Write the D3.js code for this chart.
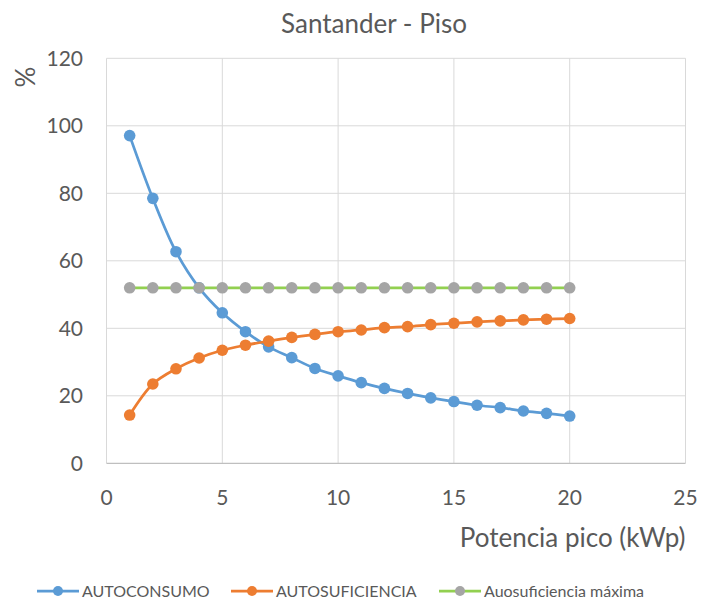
<!DOCTYPE html>
<html>
<head>
<meta charset="utf-8">
<script src="https://cdn.jsdelivr.net/npm/d3@7"></script>
<style>
  body { margin: 0; background: #fff; }
  text { font-family: Lato, "Open Sans", sans-serif; fill: #595959; }
</style>
</head>
<body>
<script>
var potencia = [1, 2, 3, 4, 5, 6, 7, 8, 9, 10, 11, 12, 13, 14, 15, 16, 17, 18, 19, 20];
var autoconsumo = [97.1, 78.5, 62.7, 52.0, 44.6, 39.0, 34.5, 31.3, 28.1, 25.9, 23.9, 22.2, 20.7, 19.4, 18.3, 17.2, 16.5, 15.5, 14.8, 14.0];
var autosuficiencia = [14.3, 23.5, 28.0, 31.2, 33.5, 35.0, 36.2, 37.3, 38.2, 39.0, 39.5, 40.2, 40.5, 41.1, 41.5, 41.9, 42.2, 42.5, 42.7, 42.9];
var maxima = [52, 52, 52, 52, 52, 52, 52, 52, 52, 52, 52, 52, 52, 52, 52, 52, 52, 52, 52, 52];
var xTicks = [0, 5, 10, 15, 20, 25];
var yTicks = [0, 20, 40, 60, 80, 100, 120];
var seriesNames = ["AUTOCONSUMO", "AUTOSUFICIENCIA", "Auosuficiencia máxima"];

var width = 702, height = 600;
var margin = {left: 106.5, right: 16.5, top: 58.3, bottom: 136.7};

var svg = d3.select("body").append("svg")
    .attr("width", width)
    .attr("height", height);

var x = d3.scaleLinear().domain([0, 25]).range([margin.left, width - margin.right]);
var y = d3.scaleLinear().domain([0, 120]).range([height - margin.bottom, margin.top]);

// gridlines
svg.append("g").selectAll("line.h")
    .data(yTicks.filter(function(d) { return d > 0; }))
    .enter().append("line")
    .attr("x1", x(0)).attr("x2", x(25))
    .attr("y1", function(d) { return y(d); })
    .attr("y2", function(d) { return y(d); })
    .style("stroke", "#d9d9d9").style("stroke-width", 1);

svg.append("g").selectAll("line.v")
    .data(xTicks)
    .enter().append("line")
    .attr("y1", y(0)).attr("y2", y(120))
    .attr("x1", function(d) { return x(d); })
    .attr("x2", function(d) { return x(d); })
    .style("stroke", "#d9d9d9").style("stroke-width", 1);

// bottom axis line
svg.append("line")
    .attr("x1", x(0)).attr("x2", x(25))
    .attr("y1", y(0)).attr("y2", y(0))
    .style("stroke", "#bfbfbf").style("stroke-width", 1.2);

// tick labels
svg.append("g").selectAll("text")
    .data(yTicks).enter().append("text")
    .attr("x", 83)
    .attr("y", function(d) { return y(d); })
    .attr("dy", "0.35em")
    .attr("text-anchor", "end")
    .style("font-size", "21px")
    .text(function(d) { return d; });

svg.append("g").selectAll("text")
    .data(xTicks).enter().append("text")
    .attr("x", function(d) { return x(d); })
    .attr("y", y(0) + 34)
    .attr("dy", "0.35em")
    .attr("text-anchor", "middle")
    .style("font-size", "21px")
    .text(function(d) { return d; });

// titles
svg.append("text")
    .attr("x", 374).attr("y", 33)
    .attr("text-anchor", "middle")
    .style("font-size", "26px")
    .text("Santander - Piso");

svg.append("text")
    .attr("x", x(25)).attr("y", 547)
    .attr("text-anchor", "end")
    .style("font-size", "26px")
    .text("Potencia pico (kWp)");

svg.append("text")
    .attr("transform", "translate(35,77) rotate(-90)")
    .attr("text-anchor", "middle")
    .style("font-size", "26px")
    .text("%");

// series
var series = [
    {name: seriesNames[0], values: autoconsumo, line: "#5b9bd5", marker: "#5b9bd5"},
    {name: seriesNames[1], values: autosuficiencia, line: "#ed7d31", marker: "#ed7d31"},
    {name: seriesNames[2], values: maxima, line: "#92d050", marker: "#a5a5a5"}
];

var line = d3.line()
    .x(function(d) { return x(d[0]); })
    .y(function(d) { return y(d[1]); })
    .curve(d3.curveCatmullRom.alpha(0.5));

series.forEach(function(s) {
    var pts = potencia.map(function(p, i) { return [p, s.values[i]]; });
    svg.append("path")
        .datum(pts)
        .attr("d", line)
        .style("fill", "none")
        .style("stroke", s.line)
        .style("stroke-width", 2.75);
    svg.append("g").selectAll("circle")
        .data(pts).enter().append("circle")
        .attr("cx", function(d) { return x(d[0]); })
        .attr("cy", function(d) { return y(d[1]); })
        .attr("r", 5.8)
        .style("fill", s.marker);
});

// legend
var legendX = [37, 231, 439];
series.forEach(function(s, i) {
    var g = svg.append("g").attr("transform", "translate(" + legendX[i] + ",591)");
    g.append("line").attr("x1", 0).attr("x2", 42)
        .style("stroke", s.line).style("stroke-width", 2.75);
    g.append("circle").attr("cx", 21).attr("r", 5).style("fill", s.marker);
    g.append("text").attr("x", 45).attr("dy", "0.35em")
        .style("font-size", "16px")
        .text(s.name);
});
</script>
</body>
</html>
